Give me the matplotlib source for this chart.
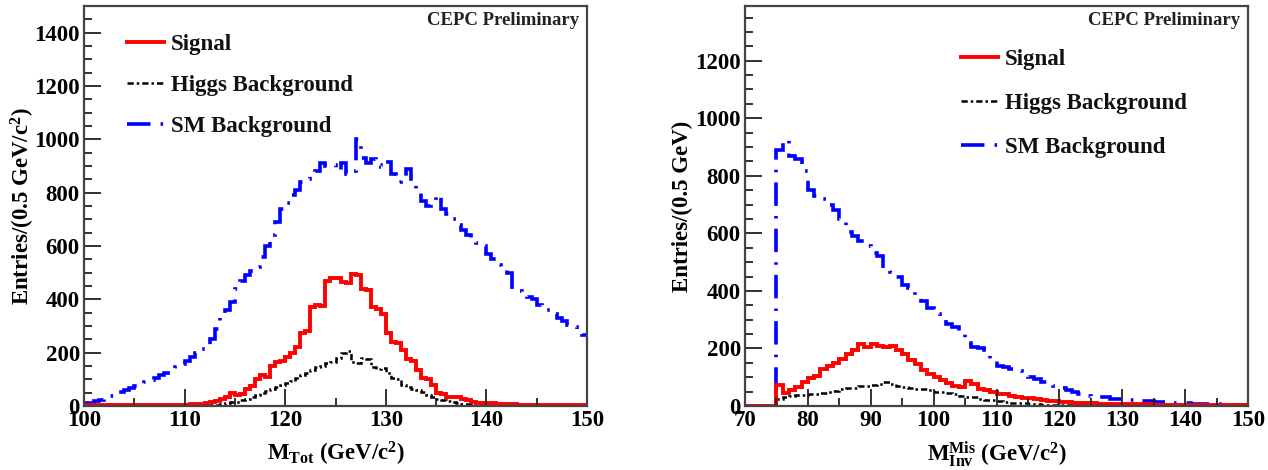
import numpy as np
import matplotlib
matplotlib.use("Agg")
import matplotlib.pyplot as plt
from matplotlib.lines import Line2D
from matplotlib.ticker import MultipleLocator

plt.rcParams['font.family'] = ['Liberation Serif', 'DejaVu Serif']
plt.rcParams['font.weight'] = 'bold'
plt.rcParams['mathtext.fontset'] = 'custom'
plt.rcParams['mathtext.rm'] = 'Liberation Serif:bold'
plt.rcParams['mathtext.it'] = 'Liberation Serif:bold'
plt.rcParams['mathtext.bf'] = 'Liberation Serif:bold'

# ---------------- Left panel: M_Tot, 0.5 GeV bins from 100 to 150 ----------------
left_range = (100, 150)
left_bin = 0.5
left_signal = [3, 2, 3, 2, 3, 2, 2, 3, 2, 3,
               3, 2, 4, 3, 3, 4, 3, 4, 4, 5,
               5, 6, 6, 8,
               12, 15, 20, 25, 35, 50, 40, 45, 65, 75,
               100, 115, 110, 150, 165, 170, 185, 200, 220, 275,
               280, 370, 380, 375, 470, 480, 480, 465, 460, 495,
               490, 440, 435, 370, 365, 345, 275, 240, 235, 210,
               175, 170, 135, 105, 100, 80, 50, 45, 35, 35,
               33, 25, 22, 15, 12, 12, 10, 10, 9, 8,
               6, 6, 5, 5, 5, 4, 4, 4, 4, 4, 3, 3, 3, 3, 3, 3]
left_higgs = [0, 0, 0, 0, 0, 0, 0, 0, 0, 0,
              1, 0, 1, 1, 1, 1, 1, 1, 2, 2,
              2, 2, 2, 2,
              3, 4, 5, 8, 10, 14, 16, 22, 28, 35,
              40, 50, 58, 65, 72, 80, 88, 95, 104, 115,
              125, 135, 145, 150, 160, 165, 180, 200, 205, 165,
              160, 180, 175, 145, 140, 142, 125, 105, 100, 80,
              72, 65, 60, 52, 40, 35, 28, 23, 18, 15,
              12, 9, 7, 5, 4, 3, 3, 2, 2, 2,
              2, 1, 1, 1, 1, 1, 1, 1, 1, 1, 1, 1, 1, 1, 1, 1]
left_sm = [10, 12, 18, 22, 30, 38, 45, 52, 60, 68,
           75, 82, 90, 98, 105, 115, 125, 135, 148, 158,
           170, 185, 200, 215, 230, 250, 290, 330, 360, 390,
           440, 470, 490, 505, 520, 560, 600, 640, 690, 740,
           760, 790, 810, 840, 850, 865, 880, 910, 900, 905,
           880, 910, 870, 880, 1000, 930, 910, 925, 905, 895,
           915, 870, 840, 860, 890, 830, 810, 770, 750, 760,
           790, 740, 720, 700, 680, 660, 640, 630, 610, 600,
           570, 550, 530, 520, 500, 440, 430, 420, 410, 400,
           380, 370, 360, 345, 330, 320, 305, 295, 280, 265]

# ---------------- Right panel: M_Inv^Mis, 1 GeV bins from 70 to 150 ----------------
right_range = (70, 150)
right_bin = 1.0
right_signal = [0, 0, 0, 0, 0,
                73, 45, 55, 65, 85, 97, 105, 130, 140, 150,
                165, 180, 195, 215, 205, 215, 210, 205, 208, 195,
                180, 160, 145, 125, 112, 100, 90, 80, 68, 65,
                88, 75, 58, 55, 50, 42, 40, 36, 32, 28,
                27, 25, 22, 18, 16, 14, 13, 12, 10, 9,
                9, 8, 8, 7, 7, 7, 6, 6, 6, 6,
                5, 5, 5, 5, 5, 5, 5, 4, 4, 4, 4, 4, 4, 4, 4]
right_higgs = [0, 0, 0, 0, 0,
               25, 30, 35, 38, 38, 40, 42, 45, 48, 52,
               58, 62, 63, 68, 70, 73, 75, 85, 78, 70,
               67, 64, 60, 59, 55, 50, 47, 45, 40, 36,
               33, 30, 26, 22, 20, 17, 14, 12, 10, 9,
               7, 6, 5, 4, 3, 3, 2, 2, 2, 2,
               1, 1, 1, 1, 1, 1, 1, 1, 1, 1,
               0, 0, 0, 0, 0, 0, 0, 0, 0, 0, 0, 0, 0, 0, 0]
right_sm = [0, 0, 0, 0, 0,
            890, 925, 870, 860, 815, 750, 730, 720, 700, 680,
            650, 605, 590, 575, 555, 530, 520, 480, 465, 450,
            420, 410, 375, 365, 340, 320, 300, 285, 275, 260,
            220, 205, 200, 195, 165, 140, 135, 130, 120, 110,
            100, 95, 85, 80, 70, 62, 55, 50, 40, 35,
            32, 32, 30, 26, 23, 21, 20, 19, 18, 16,
            15, 14, 13, 12, 10, 9, 8, 8, 7, 7, 6, 6, 5, 5, 5]

legend_labels = ["Signal", "Higgs Background", "SM Background"]

RED = '#ff0000'
BLUE = '#0000ff'
BLACK = '#000000'
FRAME = '#444444'

sig_style = dict(color=RED, lw=2.8, linestyle='-')
hig_style = dict(color=BLACK, lw=1.8, linestyle=(0, (2.5, 1.2, 1.0, 1.2)))
sm_style = dict(color=BLUE, lw=2.6, linestyle=(0, (6.5, 2.8, 0.7, 2.8)))

FS = 16.5

fig = plt.figure(figsize=(12.68, 4.70), dpi=100)
axL = fig.add_axes([84 / 1268, 64 / 470, 503 / 1268, 400 / 470])
axR = fig.add_axes([745 / 1268, 64 / 470, 503 / 1268, 400 / 470])


def draw(ax, rng, binw, sig, hig, sm, ylim, ylabel, xlabel, ylab_x, leg_anchor, leg_space):
    edges = np.arange(rng[0], rng[1] + binw / 2, binw)
    ax.stairs(sm, edges, baseline=None, **sm_style)
    ax.stairs(hig, edges, baseline=None, **hig_style)
    ax.stairs(sig, edges, baseline=None, **sig_style)
    ax.set_xlim(*rng)
    ax.set_ylim(0, ylim)
    ax.xaxis.set_major_locator(MultipleLocator(10))
    ax.xaxis.set_minor_locator(MultipleLocator(5))
    ax.yaxis.set_major_locator(MultipleLocator(200))
    ax.yaxis.set_minor_locator(MultipleLocator(50))
    ax.tick_params(which='both', direction='in', top=False, right=False,
                   labelsize=FS, color='#222222', width=1.3)
    ax.tick_params(which='major', length=12, pad=3)
    ax.tick_params(which='minor', length=6)
    for lab in ax.get_xticklabels() + ax.get_yticklabels():
        lab.set_fontweight('bold')
    for sp in ax.spines.values():
        sp.set_color(FRAME)
        sp.set_linewidth(1.6)
    ax.set_ylabel(ylabel, fontsize=FS, fontweight='bold')
    ax.yaxis.set_label_coords(ylab_x, 0.5)
    ax.set_xlabel(xlabel, fontsize=FS, fontweight='bold', labelpad=6)
    ax.text(0.985, 0.985, "CEPC Preliminary", transform=ax.transAxes,
            ha='right', va='top', fontsize=13.5, fontweight='bold', color='#222222')
    handles = [Line2D([], [], **sig_style), Line2D([], [], **hig_style),
               Line2D([], [], **sm_style)]
    leg = ax.legend(handles, legend_labels, loc='upper left', bbox_to_anchor=leg_anchor,
                    frameon=False, fontsize=FS, handlelength=1.6, handletextpad=0.3,
                    labelspacing=leg_space, borderpad=0, borderaxespad=0)
    for t in leg.get_texts():
        t.set_fontweight('bold')
        t.set_color('#111111')


draw(axL, left_range, left_bin, left_signal, left_higgs, left_sm, 1500,
     r"Entries/(0.5 GeV/c$^{2}$)", r"M$_{\rm Tot}$ (GeV/c$^{2}$)", -0.093,
     (0.0855, 0.93), 0.88)
draw(axR, right_range, right_bin, right_signal, right_higgs, right_sm, 1390,
     r"Entries/(0.5 GeV)", r"M$^{\rm Mis}_{\rm Inv}$ (GeV/c$^{2}$)", -0.103,
     (0.4304, 0.8925), 1.01)

fig.savefig("out.png", dpi=100)
